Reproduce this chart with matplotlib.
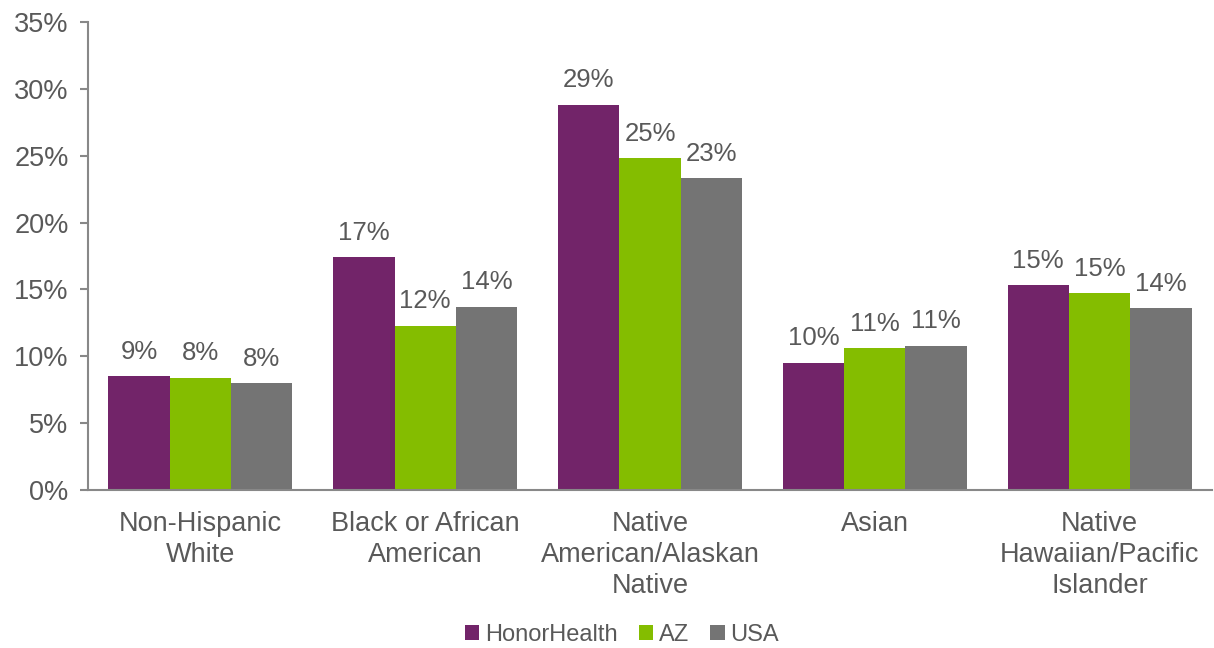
import numpy as np
import matplotlib
matplotlib.use("Agg")
from matplotlib import pyplot as plt

## Data
categories = ["Non-Hispanic\nWhite", "Black or African\nAmerican", "Native\nAmerican/Alaskan\nNative",
              "Asian", "Native\nHawaiian/Pacific\nIslander"]
series_names = ["HonorHealth", "AZ", "USA"]
honorhealth = [8.5, 17.4, 28.8, 9.5, 15.3]
az = [8.4, 12.3, 24.8, 10.6, 14.7]
usa = [8.0, 13.7, 23.3, 10.8, 13.6]
labels_hh = ["9%", "17%", "29%", "10%", "15%"]
labels_az = ["8%", "12%", "25%", "11%", "15%"]
labels_usa = ["8%", "14%", "23%", "11%", "14%"]

colors = ["#722469", "#84BD00", "#747474"]
text_color = "#595959"
plt.rcParams['font.family'] = ['Liberation Sans', 'DejaVu Sans']

fig = plt.figure(figsize=(12.14, 6.48), dpi=100)
ax = fig.add_axes([88/1214, 1 - 490/648, 1124/1214, 468/648])

x = np.arange(len(categories))
w = 0.273
for k, (vals, labs) in enumerate([(honorhealth, labels_hh), (az, labels_az), (usa, labels_usa)]):
    bars = ax.bar(x + (k - 1) * w, vals, width=w, color=colors[k], label=series_names[k])
    for b, lab in zip(bars, labs):
        ax.annotate(lab, (b.get_x() + b.get_width() / 2, b.get_height()),
                    xytext=(0, 9), textcoords="offset points", ha="center", va="bottom",
                    fontsize=18.5, color=text_color)

ax.set_xlim(-0.5, len(categories) - 0.5)
ax.set_ylim(0, 35)
ax.set_yticks(np.arange(0, 36, 5))
ax.set_yticklabels([f"{v}%" for v in range(0, 36, 5)])
ax.set_xticks(x)
ax.set_xticklabels(categories, va="top", linespacing=1.25)
ax.tick_params(axis="y", colors="#888888", labelcolor=text_color, labelsize=19.5, length=6, width=1.5,
               direction="out", pad=8)
ax.tick_params(axis="x", length=0, labelcolor=text_color, labelsize=19.5, pad=15)
for s in ["top", "right"]:
    ax.spines[s].set_visible(False)
for s in ["left", "bottom"]:
    ax.spines[s].set_color("#888888")
    ax.spines[s].set_linewidth(1.5)

fig.legend(loc="center", bbox_to_anchor=(622/1214, 1 - 635/648), ncol=3, frameon=False,
           fontsize=17, handlelength=0.6, handleheight=0.6, handletextpad=0.25, columnspacing=0.9,
           labelcolor=text_color)

fig.savefig("out.png", dpi=100)
